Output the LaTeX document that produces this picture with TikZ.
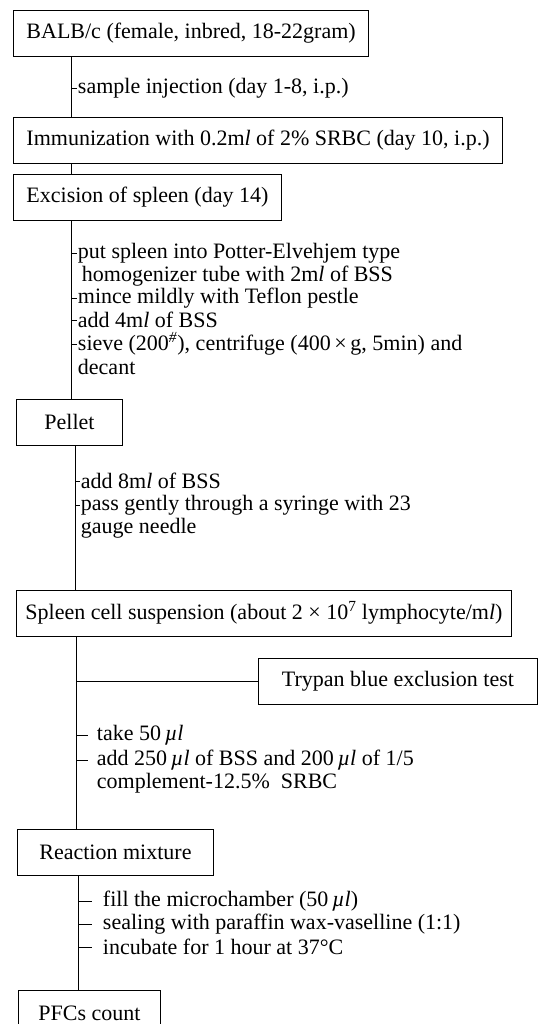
\documentclass[tikz,border=0pt]{standalone}
\usepackage{fontspec}
\setmainfont{Liberation Serif}
\usetikzlibrary{positioning}
\begin{document}
\begin{tikzpicture}[
  x=1pt, y=-1pt, line width=0.9pt,
  font=\fontsize{22}{23}\selectfont,
  stepbox/.style={rectangle, draw=black, anchor=west, minimum height=46pt, inner xsep=13pt},
  note/.style={anchor=west, inner sep=0.5pt}
]
\useasboundingbox (0,0) rectangle (550,1024);
\clip (0,0) rectangle (550,1024);

\node[stepbox] (balb) at (13,33) {BALB/c (female, inbred, 18-22gram)};
\node[stepbox] (immu) at (13,140) {Immunization with 0.2m\textit{l} of 2\% SRBC (day 10, i.p.)};
\node[stepbox] (exci) at (13,197) {Excision of spleen (day 14)};
\node[stepbox, minimum width=106pt] (pell) at (16,422) {Pellet};
\node[stepbox, inner xsep=9pt] (susp) at (16,613) {Spleen cell suspension (about 2 × 10\textsuperscript{7} lymphocyte/m\textit{l})};
\node[stepbox, minimum width=279pt] (tryp) at (258,681) {Trypan blue exclusion test};
\node[stepbox, minimum width=196pt] (reac) at (17,852) {Reaction mixture};
\node[stepbox, minimum width=142pt] (pfcs) at (18,1013) {PFCs count};

\coordinate (ta) at (71,0);
\coordinate (tb) at (75,0);
\coordinate (tc) at (76,0);
\coordinate (td) at (78,0);

\node[note] (s1) at (77,88) {sample injection (day 1-8, i.p.)};
\node[note] (s2) at (77,253) {put spleen into Potter-Elvehjem type};
\node[note] (s2b) at (81,276) {homogenizer tube with 2m\textit{l} of BSS};
\node[note] (s3) at (77,298) {mince mildly with Teflon pestle};
\node[note] (s4) at (77,320) {add 4m\textit{l} of BSS};
\node[note] (s5) at (77,344) {sieve (200\textsuperscript{\textit{\#}}), centrifuge (400\,×\,g, 5min) and};
\node[note] (s5b) at (77,367) {decant};
\node[note] (s6) at (80,481) {add 8m\textit{l} of BSS};
\node[note] (s7) at (80,505) {pass gently through a syringe with 23};
\node[note] (s7b) at (80,528) {gauge needle};
\node[note] (s8) at (96,735) {take 50\,\textit{µl}};
\node[note] (s9) at (96,760) {add 250\,\textit{µl} of BSS and 200\,\textit{µl} of 1/5};
\node[note] (s9b) at (96,783) {complement-12.5\%\ \ SRBC};
\node[note] (s10) at (102,901) {fill the microchamber (50\,\textit{µl})};
\node[note] (s11) at (102,924) {sealing with paraffin wax-vaselline (1:1)};
\node[note] (s12) at (102,947) {incubate for 1 hour at 37°C};

% trunk
\draw (balb.south -| ta) -- (immu.north -| ta);
\draw (immu.south -| ta) -- (exci.north -| ta);
\draw (exci.south -| ta) -- (pell.north -| ta);
\draw (pell.south -| tb) -- (susp.north -| tb);
\draw (susp.south -| tc) -- (reac.north -| tc);
\draw (reac.south -| td) -- (pfcs.north -| td);
\draw (tryp.west -| tc) -- (tryp.west);

% ticks
\foreach \s in {s1,s2,s3,s4,s5}
  \draw (\s.west -| ta) -- (\s.west);
\foreach \s in {s6,s7}
  \draw (\s.west -| tb) -- (\s.west);
\foreach \s in {s8,s9}
  \draw (\s.west -| tc) -- ([xshift=-8pt]\s.west);
\foreach \s in {s10,s11,s12}
  \draw (\s.west -| td) -- ([xshift=-10pt]\s.west);

\end{tikzpicture}
\end{document}
